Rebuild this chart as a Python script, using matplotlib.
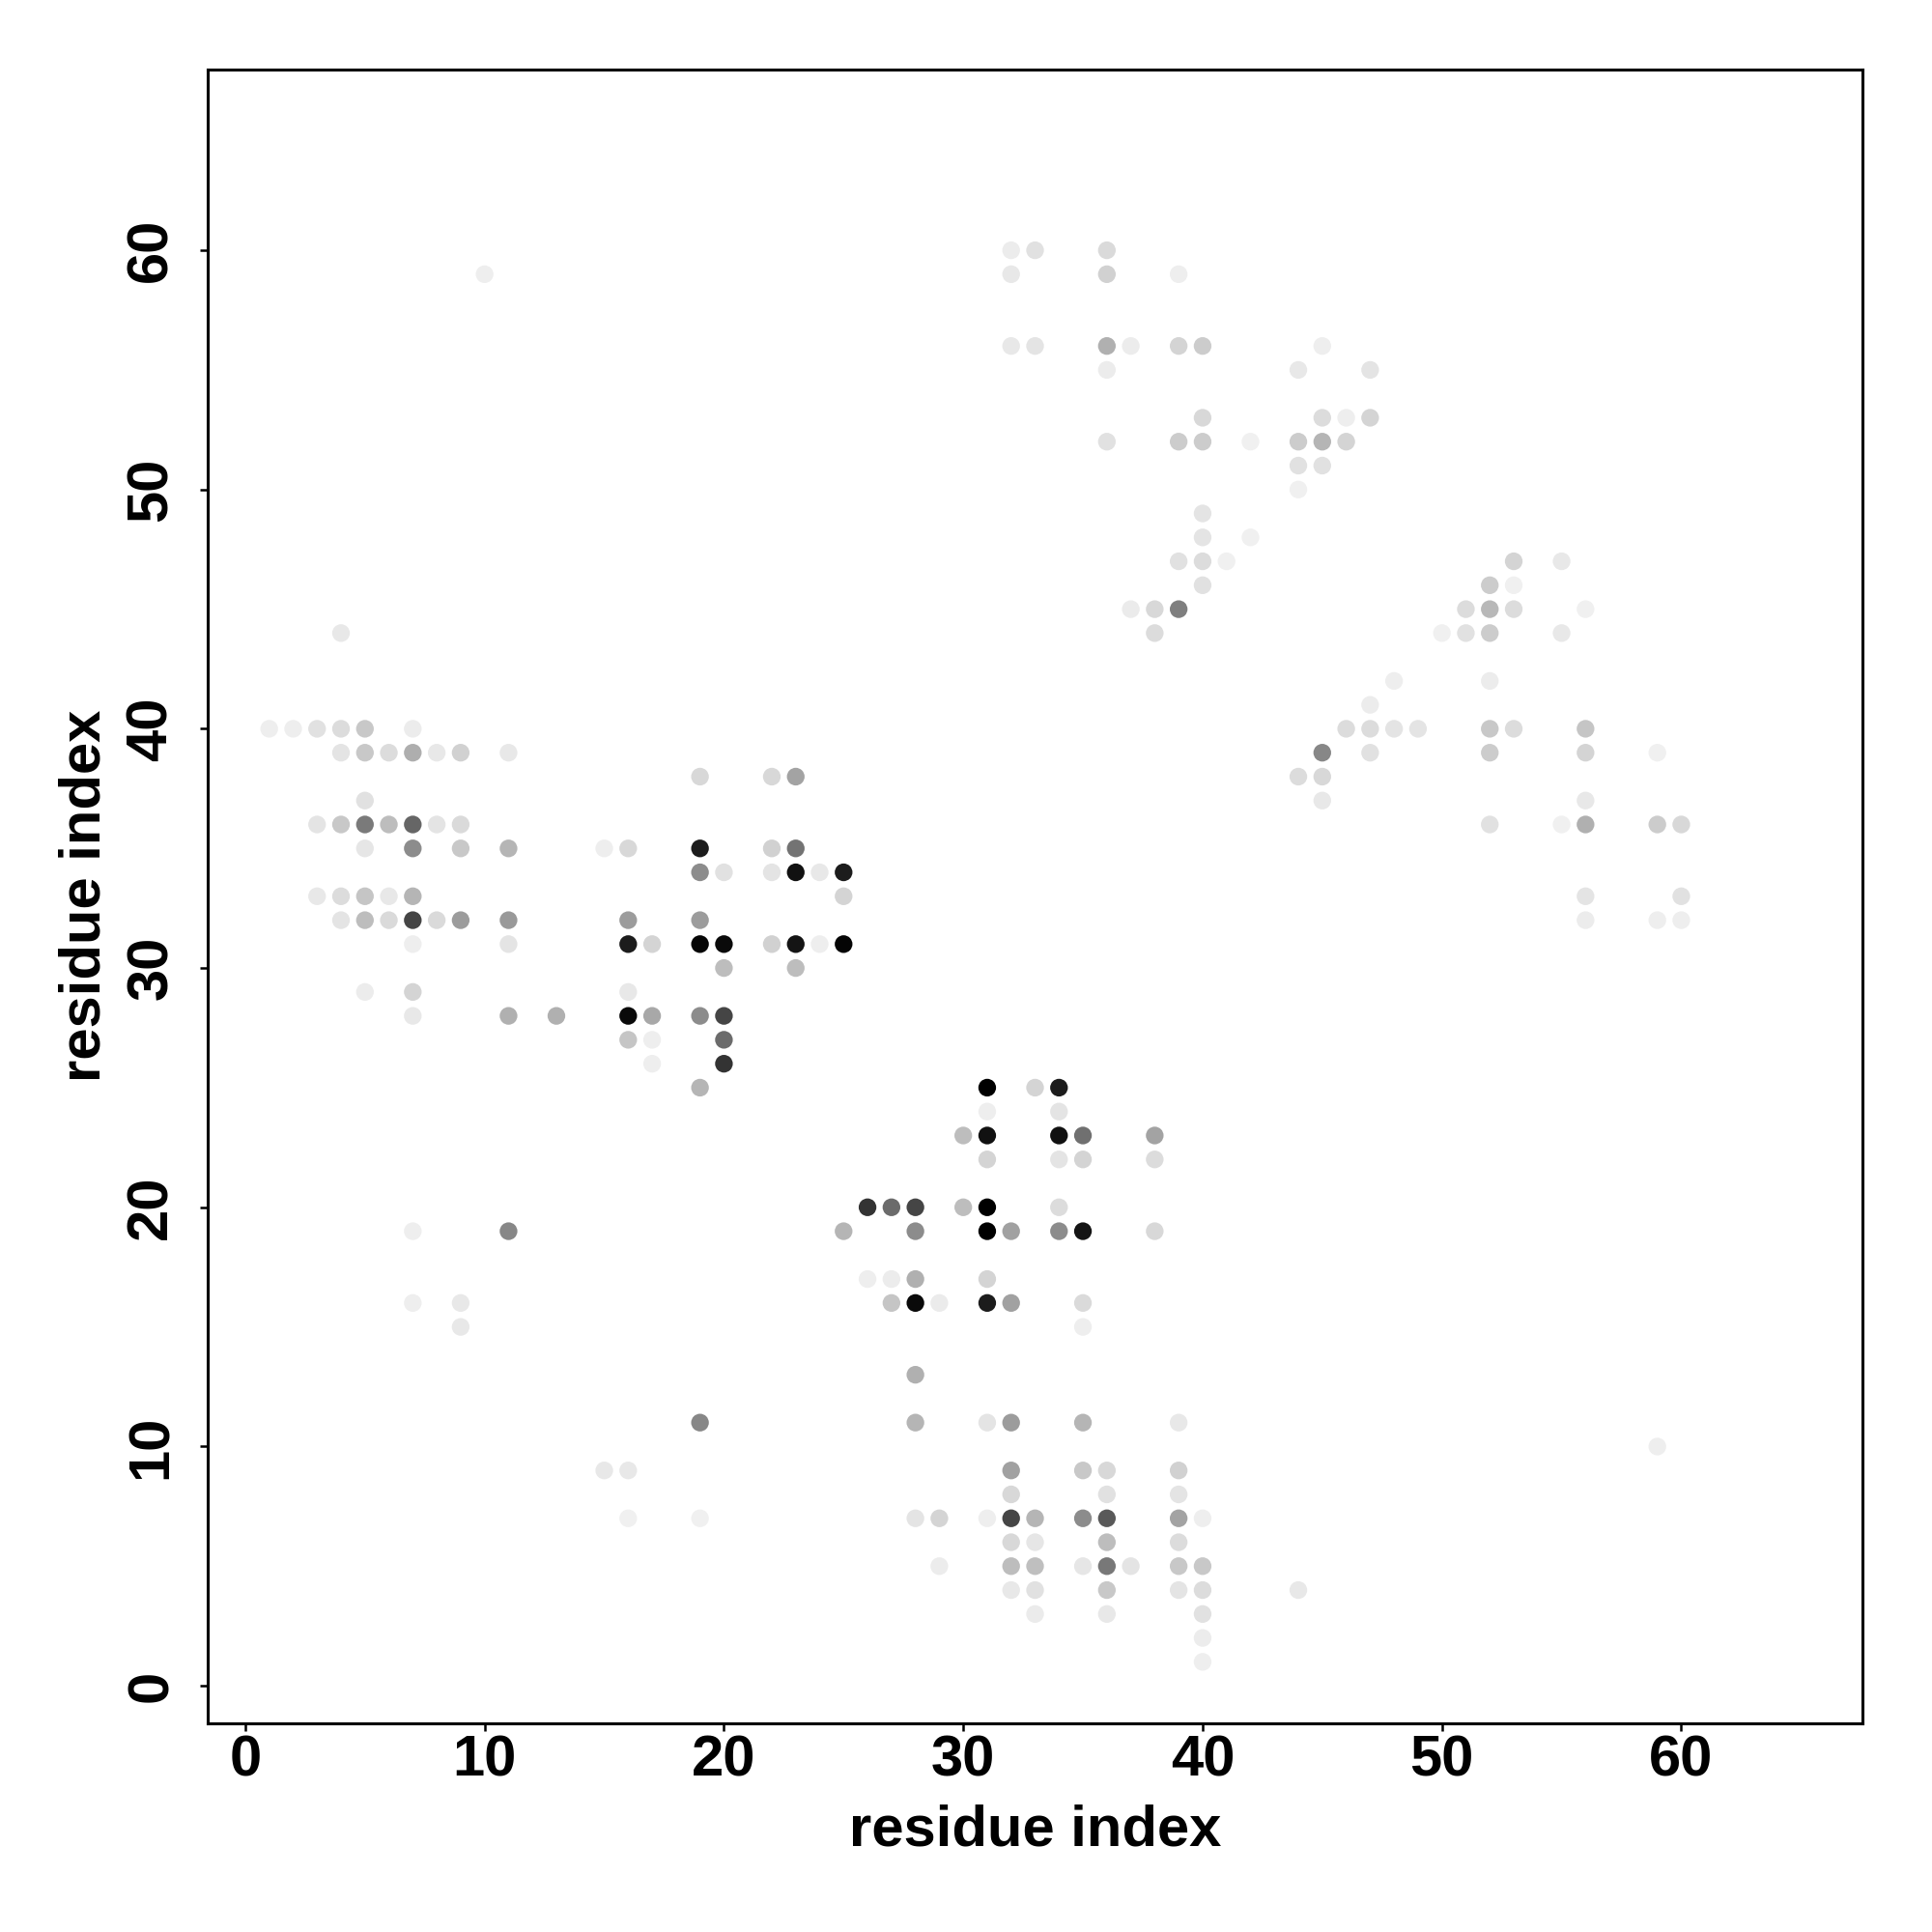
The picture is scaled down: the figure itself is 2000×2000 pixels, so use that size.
import matplotlib
matplotlib.use("Agg")
import matplotlib.pyplot as plt

# contact map: residue pairs (x, y) and contact strength (0 = white, 1 = black)
# grouped by row of the map
res_x = [
    32, 33, 36,                                   # y = 60
    10, 32, 36, 39,                               # y = 59
    32, 33, 36, 37, 39, 40, 45,                   # y = 56
    36, 44, 47,                                   # y = 55
    40, 45, 46, 47,                               # y = 53
    36, 39, 40, 42, 44, 45, 46,                   # y = 52
    44, 45,                                       # y = 51
    44,                                           # y = 50
    40,                                           # y = 49
    40, 42,                                       # y = 48
    39, 40, 41, 53, 55,                           # y = 47
    40, 52, 53,                                   # y = 46
    37, 38, 39, 51, 52, 53, 56,                   # y = 45
    4, 38, 50, 51, 52, 55,                        # y = 44
    48, 52,                                       # y = 42
    47,                                           # y = 41
    1, 2, 3, 4, 5, 7, 46, 47, 48, 49, 52, 53, 56, # y = 40
    4, 5, 6, 7, 8, 9, 11, 45, 47, 52, 56, 59,     # y = 39
    19, 22, 23, 44, 45,                           # y = 38
    5, 45, 56,                                    # y = 37
    3, 4, 5, 6, 7, 8, 9, 52, 55, 56, 59, 60,      # y = 36
    5, 7, 9, 11, 15, 16, 19, 22, 23,              # y = 35
    19, 20, 22, 23, 24, 25,                       # y = 34
    3, 4, 5, 6, 7, 25, 56, 60,                    # y = 33
    4, 5, 6, 7, 8, 9, 11, 16, 19, 56, 59, 60,     # y = 32
    7, 11, 16, 17, 19, 20, 22, 23, 24, 25,        # y = 31
    20, 23,                                       # y = 30
    5, 7, 16,                                     # y = 29
    7, 11, 13, 16, 17, 19, 20,                    # y = 28
    16, 17, 20,                                   # y = 27
    17, 20,                                       # y = 26
    19, 31, 33, 34,                               # y = 25
    31, 34,                                       # y = 24
    30, 31, 34, 35, 38,                           # y = 23
    31, 34, 35, 38,                               # y = 22
    26, 27, 28, 30, 31, 34,                       # y = 20
    7, 11, 25, 28, 31, 32, 34, 35, 38,            # y = 19
    26, 27, 28, 31,                               # y = 17
    7, 9, 27, 28, 29, 31, 32, 35,                 # y = 16
    9, 35,                                        # y = 15
    28,                                           # y = 13
    19, 28, 31, 32, 35, 39,                       # y = 11
    59,                                           # y = 10
    15, 16, 32, 35, 36, 39,                       # y = 9
    32, 36, 39,                                   # y = 8
    16, 19, 28, 29, 31, 32, 33, 35, 36, 39, 40,   # y = 7
    32, 33, 36, 39,                               # y = 6
    29, 32, 33, 35, 36, 37, 39, 40,               # y = 5
    32, 33, 36, 39, 40, 44,                       # y = 4
    33, 36, 40,                                   # y = 3
    40,                                           # y = 2
    40,                                           # y = 1
]

res_y = (
    [60] * 3 + [59] * 4 + [56] * 7 + [55] * 3 + [53] * 4 + [52] * 7
    + [51] * 2 + [50] * 1 + [49] * 1 + [48] * 2 + [47] * 5 + [46] * 3
    + [45] * 7 + [44] * 6 + [42] * 2 + [41] * 1 + [40] * 13 + [39] * 12
    + [38] * 5 + [37] * 3 + [36] * 12 + [35] * 9 + [34] * 6 + [33] * 8
    + [32] * 12 + [31] * 10 + [30] * 2 + [29] * 3 + [28] * 7 + [27] * 3
    + [26] * 2 + [25] * 4 + [24] * 2 + [23] * 5 + [22] * 4 + [20] * 6
    + [19] * 9 + [17] * 4 + [16] * 8 + [15] * 2 + [13] * 1 + [11] * 6
    + [10] * 1 + [9] * 6 + [8] * 3 + [7] * 11 + [6] * 4 + [5] * 8
    + [4] * 6 + [3] * 3 + [2] * 1 + [1] * 1
)

strength = [
    .075, .12, .145,
    .067, .09, .18, .067,
    .09, .106, .31, .075, .17, .2, .067,
    .075, .09, .106,
    .153, .137, .067, .17,
    .12, .2, .2, .06, .2, .29, .17,
    .12, .12,
    .06,
    .106,
    .106, .06,
    .12, .137, .06, .17, .09,
    .12, .2, .06,
    .08, .153, .5, .137, .28, .137, .06,
    .09, .137, .06, .12, .2, .09,
    .067, .075,
    .075,
    .067, .067, .12, .137, .216, .075, .137, .137, .106, .106, .216, .137, .23,
    .106, .216, .137, .32, .09, .18, .09, .47, .12, .2, .17, .06,
    .153, .153, .36, .137, .153,
    .12, .09, .09,
    .106, .216, .52, .26, .6, .106, .145, .12, .06, .31, .2, .153,
    .10, .45, .216, .29, .067, .153, .89, .18, .55,
    .45, .12, .106, .93, .09, .89,
    .09, .137, .23, .09, .29, .17, .106, .12,
    .106, .26, .145, .73, .145, .39, .4, .39, .39, .075, .067, .067,
    .067, .106, .89, .17, .98, .96, .18, .92, .067, .98,
    .26, .26,
    .075, .17, .09,
    .09, .31, .31, .96, .34, .45, .73,
    .23, .067, .58,
    .067, .8,
    .29, 1.0, .17, .89,
    .067, .106,
    .26, .93, .93, .56, .36,
    .17, .106, .17, .137,
    .8, .58, .73, .26, 1.0, .137,
    .067, .47, .29, .45, 1.0, .37, .45, .92, .153,
    .067, .075, .31, .17,
    .067, .09, .23, .96, .08, .89, .37, .145,
    .09, .067,
    .31,
    .47, .29, .106, .39, .29, .09,
    .067,
    .09, .09, .37, .216, .153, .18,
    .153, .12, .106,
    .06, .06, .106, .17, .067, .73, .29, .45, .65, .36, .067,
    .153, .10, .26, .137,
    .075, .26, .25, .10, .53, .106, .216, .216,
    .09, .12, .216, .106, .137, .09,
    .08, .09, .12,
    .075,
    .067,
]

ticks = [0, 10, 20, 30, 40, 50, 60]

plt.rcParams['font.family'] = ['Liberation Sans', 'DejaVu Sans']
plt.rcParams['font.weight'] = 'bold'

fig = plt.figure(figsize=(20, 20), dpi=100)
ax = fig.add_axes([0.1075, 0.108, 0.8565, 0.8562])

ax.scatter(res_x, res_y, c=strength, cmap='gray_r', vmin=0, vmax=1,
           s=174, linewidths=0, zorder=2)

# R style: 4% padding around 1..65
ax.set_xlim(-1.57, 67.57)
ax.set_ylim(-1.57, 67.57)
ax.set_xticks(ticks)
ax.set_yticks(ticks)

for sp in ax.spines.values():
    sp.set_linewidth(2.2)

ax.tick_params(axis='both', direction='out', length=5.8, width=1.8,
               labelsize=43)
ax.tick_params(axis='x', pad=2.5)
ax.tick_params(axis='y', pad=16, labelrotation=90)
for lab in ax.get_yticklabels():
    lab.set_va('center')

ax.set_xlabel('residue index', fontsize=43, fontweight='bold', labelpad=12)
ax.set_ylabel('residue index', fontsize=43, fontweight='bold', labelpad=10)

plt.savefig('out.png', dpi=100)
